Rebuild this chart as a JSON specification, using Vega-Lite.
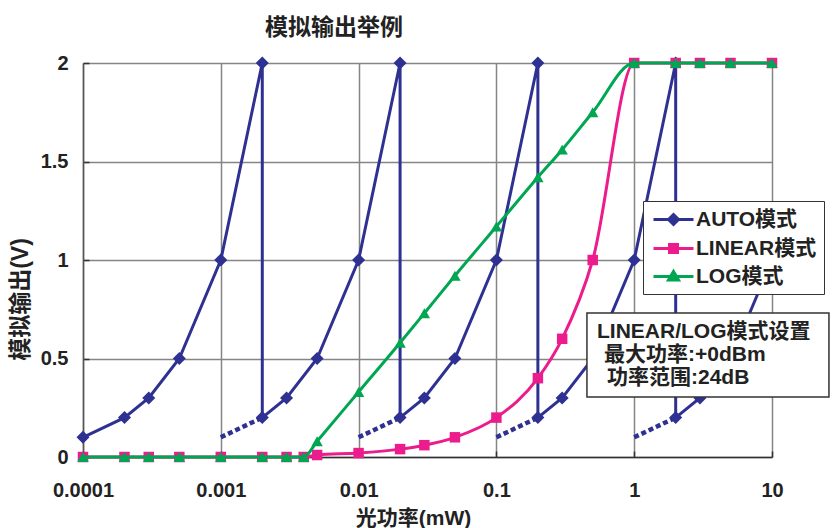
{
  "$schema": "https://vega.github.io/schema/vega-lite/v6.json",
  "width": 689,
  "height": 394,
  "padding": {"left": 9, "top": 17, "right": 4, "bottom": 2},
  "title": {
    "text": "模拟输出举例",
    "anchor": "start",
    "frame": "group",
    "dx": 182,
    "offset": 13,
    "font": "Noto Sans CJK SC",
    "fontSize": 23,
    "fontWeight": "bold",
    "color": "#222"
  },
  "datasets": {
    "auto": [
      {"i": 1, "x": 0.0001, "y": 0.1}, {"i": 2, "x": 0.0002, "y": 0.2}, {"i": 3, "x": 0.0003, "y": 0.3},
      {"i": 4, "x": 0.0005, "y": 0.5}, {"i": 5, "x": 0.001, "y": 1}, {"i": 6, "x": 0.002, "y": 2},
      {"i": 7, "x": 0.002, "y": 0.2}, {"i": 8, "x": 0.003, "y": 0.3}, {"i": 9, "x": 0.005, "y": 0.5},
      {"i": 10, "x": 0.01, "y": 1}, {"i": 11, "x": 0.02, "y": 2}, {"i": 12, "x": 0.02, "y": 0.2},
      {"i": 13, "x": 0.03, "y": 0.3}, {"i": 14, "x": 0.05, "y": 0.5}, {"i": 15, "x": 0.1, "y": 1},
      {"i": 16, "x": 0.2, "y": 2}, {"i": 17, "x": 0.2, "y": 0.2}, {"i": 18, "x": 0.3, "y": 0.3},
      {"i": 19, "x": 0.5, "y": 0.5}, {"i": 20, "x": 1, "y": 1}, {"i": 21, "x": 2, "y": 2},
      {"i": 22, "x": 2, "y": 0.2}, {"i": 23, "x": 3, "y": 0.3}, {"i": 24, "x": 5, "y": 0.5},
      {"i": 25, "x": 10, "y": 1}
    ],
    "autodash": [
      {"seg": 1, "x": 0.001, "y": 0.1}, {"seg": 1, "x": 0.002, "y": 0.2},
      {"seg": 2, "x": 0.01, "y": 0.1}, {"seg": 2, "x": 0.02, "y": 0.2},
      {"seg": 3, "x": 0.1, "y": 0.1}, {"seg": 3, "x": 0.2, "y": 0.2},
      {"seg": 4, "x": 1, "y": 0.1}, {"seg": 4, "x": 2, "y": 0.2}
    ],
    "linear": [
      {"x": 0.0001, "y": 0}, {"x": 0.0002, "y": 0}, {"x": 0.0003, "y": 0}, {"x": 0.0005, "y": 0},
      {"x": 0.001, "y": 0}, {"x": 0.002, "y": 0}, {"x": 0.003, "y": 0}, {"x": 0.004, "y": 0},
      {"x": 0.005, "y": 0.01}, {"x": 0.01, "y": 0.02}, {"x": 0.02, "y": 0.04}, {"x": 0.03, "y": 0.06},
      {"x": 0.05, "y": 0.1}, {"x": 0.1, "y": 0.2}, {"x": 0.2, "y": 0.4}, {"x": 0.3, "y": 0.6},
      {"x": 0.5, "y": 1}, {"x": 1, "y": 2}, {"x": 2, "y": 2}, {"x": 3, "y": 2}, {"x": 5, "y": 2}, {"x": 10, "y": 2}
    ],
    "log": [
      {"x": 0.0001, "y": 0}, {"x": 0.0002, "y": 0}, {"x": 0.0003, "y": 0}, {"x": 0.0005, "y": 0},
      {"x": 0.001, "y": 0}, {"x": 0.002, "y": 0}, {"x": 0.003, "y": 0}, {"x": 0.004, "y": 0},
      {"x": 0.005, "y": 0.08}, {"x": 0.01, "y": 0.33}, {"x": 0.02, "y": 0.58}, {"x": 0.03, "y": 0.73},
      {"x": 0.05, "y": 0.92}, {"x": 0.1, "y": 1.17}, {"x": 0.2, "y": 1.42}, {"x": 0.3, "y": 1.56},
      {"x": 0.5, "y": 1.75}, {"x": 1, "y": 2}, {"x": 2, "y": 2}, {"x": 3, "y": 2}, {"x": 5, "y": 2}, {"x": 10, "y": 2}
    ],
    "series": [
      {"series": "AUTO模式"}, {"series": "LINEAR模式"}, {"series": "LOG模式"}
    ],
    "note": [
      {"l1": "LINEAR/LOG模式设置", "l2": "最大功率:+0dBm", "l3": "功率范围:24dB"}
    ]
  },
  "layer": [
    {
      "data": {"name": "auto"},
      "mark": {"type": "line", "color": "#2E3192", "strokeWidth": 3},
      "encoding": {
        "x": {
          "field": "x", "type": "quantitative",
          "scale": {"type": "log", "domain": [0.0001, 10], "nice": false},
          "axis": {
            "values": [0.0001, 0.001, 0.01, 0.1, 1, 10],
            "format": "~g",
            "title": "光功率(mW)",
            "titleX": 330,
            "grid": true, "gridColor": "#858585", "gridWidth": 1.5,
            "domainColor": "#333", "domainWidth": 1.5,
            "ticks": true, "tickSize": -6, "tickColor": "#333", "tickWidth": 1.5,
            "labelFont": "Liberation Sans", "labelFontSize": 20, "labelFontWeight": "bold", "labelColor": "#222",
            "labelPadding": 29, "labelFlush": false,
            "titleFont": "Liberation Sans, Noto Sans CJK SC", "titleFontSize": 21, "titleFontWeight": "bold", "titleColor": "#222",
            "titlePadding": 7
          }
        },
        "y": {
          "field": "y", "type": "quantitative",
          "scale": {"domain": [0, 2], "nice": false},
          "axis": {
            "values": [0, 0.5, 1, 1.5, 2],
            "format": "~g",
            "title": "模拟输出(V)",
            "titleY": 236,
            "grid": true, "gridColor": "#858585", "gridWidth": 1.5,
            "domainColor": "#555", "domainWidth": 1.5,
            "ticks": true, "tickSize": -6, "tickColor": "#333", "tickWidth": 1.5,
            "labelFont": "Liberation Sans", "labelFontSize": 20, "labelFontWeight": "bold", "labelColor": "#222",
            "labelPadding": 21,
            "titleFont": "Liberation Sans, Noto Sans CJK SC", "titleFontSize": 23, "titleFontWeight": "bold", "titleColor": "#222",
            "titlePadding": 8
          }
        },
        "order": {"field": "i", "type": "quantitative"}
      }
    },
    {
      "data": {"name": "autodash"},
      "mark": {"type": "line", "color": "#2E3192", "strokeWidth": 4.5, "strokeDash": [5, 3]},
      "encoding": {
        "x": {"field": "x", "type": "quantitative"},
        "y": {"field": "y", "type": "quantitative"},
        "detail": {"field": "seg", "type": "nominal"}
      }
    },
    {
      "data": {"name": "auto"},
      "mark": {"type": "point", "shape": "diamond", "filled": true, "color": "#2E3192", "size": 170, "opacity": 1},
      "encoding": {
        "x": {"field": "x", "type": "quantitative"},
        "y": {"field": "y", "type": "quantitative"}
      }
    },
    {
      "data": {"name": "linear"},
      "mark": {"type": "line", "color": "#EC1C8C", "strokeWidth": 3, "interpolate": "monotone"},
      "encoding": {
        "x": {"field": "x", "type": "quantitative"},
        "y": {"field": "y", "type": "quantitative"}
      }
    },
    {
      "data": {"name": "linear"},
      "mark": {"type": "point", "shape": "square", "filled": true, "color": "#EC1C8C", "size": 110, "opacity": 1},
      "encoding": {
        "x": {"field": "x", "type": "quantitative"},
        "y": {"field": "y", "type": "quantitative"}
      }
    },
    {
      "data": {"name": "log"},
      "mark": {"type": "line", "color": "#00A651", "strokeWidth": 3, "interpolate": "monotone"},
      "encoding": {
        "x": {"field": "x", "type": "quantitative"},
        "y": {"field": "y", "type": "quantitative"}
      }
    },
    {
      "data": {"name": "log"},
      "mark": {"type": "point", "shape": "triangle-up", "filled": true, "color": "#00A651", "size": 130, "opacity": 1},
      "encoding": {
        "x": {"field": "x", "type": "quantitative"},
        "y": {"field": "y", "type": "quantitative"}
      }
    },
    {
      "data": {"name": "series"},
      "mark": {"type": "point", "filled": true, "opacity": 0},
      "encoding": {
        "fill": {
          "field": "series", "type": "nominal",
          "scale": {"domain": ["AUTO模式", "LINEAR模式", "LOG模式"], "range": ["#2E3192", "#EC1C8C", "#00A651"]},
          "legend": {"title": null, "orient": "none", "legendX": 560, "legendY": 138, "fillColor": "white", "strokeColor": "#333", "padding": 7, "labelFont": "Liberation Sans, Noto Sans CJK SC", "labelFontSize": 21, "labelFontWeight": "bold", "labelColor": "#222", "symbolSize": 400, "symbolStrokeWidth": 3, "symbolOffset": 12, "labelOffset": 11, "rowPadding": 6, "symbolOpacity": 1}
        },
        "stroke": {
          "field": "series", "type": "nominal",
          "scale": {"domain": ["AUTO模式", "LINEAR模式", "LOG模式"], "range": ["#2E3192", "#EC1C8C", "#00A651"]},
          "legend": {"title": null, "orient": "none", "legendX": 560, "legendY": 138, "fillColor": "white", "strokeColor": "#333", "padding": 7, "labelFont": "Liberation Sans, Noto Sans CJK SC", "labelFontSize": 21, "labelFontWeight": "bold", "labelColor": "#222", "symbolSize": 400, "symbolStrokeWidth": 3, "symbolOffset": 12, "labelOffset": 11, "rowPadding": 6, "symbolOpacity": 1}
        },
        "shape": {
          "field": "series", "type": "nominal",
          "scale": {"domain": ["AUTO模式", "LINEAR模式", "LOG模式"], "range": ["M-2,0H2M0,-0.5L0.5,0L0,0.5L-0.5,0Z", "M-2,0H2M-0.4,-0.4H0.4V0.4H-0.4Z", "M-2,0H2M0,-0.5L0.5,0.35H-0.5Z"]},
          "legend": {"title": null, "orient": "none", "legendX": 560, "legendY": 138, "fillColor": "white", "strokeColor": "#333", "padding": 7, "labelFont": "Liberation Sans, Noto Sans CJK SC", "labelFontSize": 21, "labelFontWeight": "bold", "labelColor": "#222", "symbolSize": 400, "symbolStrokeWidth": 3, "symbolOffset": 12, "labelOffset": 11, "rowPadding": 6, "symbolOpacity": 1}
        }
      }
    },
    {
      "data": {"name": "note"},
      "layer": [
        {
          "mark": {"type": "rect", "fill": "white", "stroke": "#333", "strokeWidth": 1.5, "clip": false},
          "encoding": {
            "x": {"datum": 0.454, "type": "quantitative"},
            "x2": {"datum": 25.9},
            "y": {"datum": 0.731, "type": "quantitative"},
            "y2": {"datum": 0.305}
          }
        },
        {
          "mark": {"type": "text", "align": "left", "baseline": "middle", "font": "Liberation Sans, Noto Sans CJK SC", "fontSize": 21, "fontWeight": "bold", "color": "#222"},
          "encoding": {
            "x": {"datum": 0.537, "type": "quantitative"},
            "y": {"datum": 0.635, "type": "quantitative"},
            "text": {"field": "l1", "type": "nominal"}
          }
        },
        {
          "mark": {"type": "text", "align": "left", "baseline": "middle", "font": "Liberation Sans, Noto Sans CJK SC", "fontSize": 21, "fontWeight": "bold", "color": "#222"},
          "encoding": {
            "x": {"datum": 0.604, "type": "quantitative"},
            "y": {"datum": 0.518, "type": "quantitative"},
            "text": {"field": "l2", "type": "nominal"}
          }
        },
        {
          "mark": {"type": "text", "align": "left", "baseline": "middle", "font": "Liberation Sans, Noto Sans CJK SC", "fontSize": 21, "fontWeight": "bold", "color": "#222"},
          "encoding": {
            "x": {"datum": 0.635, "type": "quantitative"},
            "y": {"datum": 0.401, "type": "quantitative"},
            "text": {"field": "l3", "type": "nominal"}
          }
        }
      ]
    }
  ],
  "config": {
    "view": {"stroke": null},
    "font": "Liberation Sans, Noto Sans CJK SC"
  }
}
